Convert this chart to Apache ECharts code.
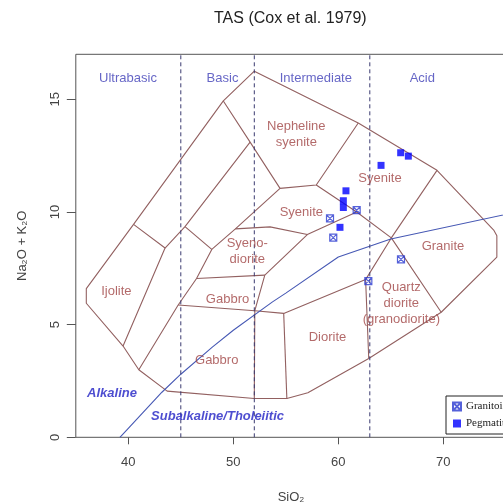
<!DOCTYPE html>
<html>
<head>
<meta charset="utf-8">
<script src="https://cdn.jsdelivr.net/npm/echarts@6/dist/echarts.min.js"></script>
<style>html,body{margin:0;padding:0;background:#fff;}#c{width:503px;height:503px;}</style>
</head>
<body>
<div id="c"></div>
<script>
// ---- axis ticks ----
const xTicks = [40, 50, 60, 70];
const yTicks = [0, 5, 10, 15];

// ---- field boundaries (SiO2, Na2O+K2O) ----
const outerBoundary = [[52,16.25],[61.9,13.95],[69.4,11.85],[74.8,9.2],[75.1,8.95],[75.1,8.0],[69.8,5.55],[62.9,3.5],[57.1,1.98],[55.1,1.72],[52,1.72],[43.7,2.05],[41,3.0],[39.5,4.05],[36,5.95],[36,6.6],[40.5,9.45],[49.05,14.93],[52,16.25]];
const ijoliteLine = [[40.5,9.45],[43.5,8.4],[39.5,4.05]];
const secondLine = [[43.5,8.4],[45.4,9.35],[51.6,13.1]];
const nephLeft = [[49.05,14.93],[51.6,13.1],[54.45,11.05]];
const nephBottom = [[54.45,11.05],[57.9,11.2],[61.9,13.95]];
const syeniteLower = [[57.9,11.2],[61.75,10.0],[65.05,8.85],[69.8,5.55]];
const graniteLeft = [[69.4,11.85],[65.05,8.85],[62.6,7.0],[62.9,3.5]];
const dioriteTop = [[62.6,7.0],[54.8,5.5],[52.05,5.62],[44.75,5.87]];
const dioriteLeft = [[54.8,5.5],[55.1,1.72]];
const gabbroRight = [[52.05,5.62],[52,1.72]];
const gabbroLeft = [[45.4,9.35],[47.95,8.34],[46.5,7.05],[44.75,5.87],[41,3.0]];
const syenoLeft = [[54.45,11.05],[50.2,9.25],[47.95,8.34]];
const syenoTop = [[50.2,9.25],[53.5,9.34],[57.05,9.0],[61.75,10.0]];
const syenoRight = [[57.05,9.0],[53.0,7.2],[52.05,5.62]];
const gabbroTop = [[53.0,7.2],[46.5,7.05]];
const boundaries = [outerBoundary, ijoliteLine, secondLine, nephLeft, nephBottom, syeniteLower, graniteLeft, dioriteTop, dioriteLeft, gabbroRight, gabbroLeft, syenoLeft, syenoTop, syenoRight, gabbroTop];

// ---- alkaline / subalkaline divide ----
const alkalineLine = [[39.2,0],[40,0.4],[43.2,2],[45,2.8],[48,4],[50,4.75],[53.7,6],[55,6.4],[60,8],[65,8.8],[77,10.0]];
const silicaDividers = [45, 52, 63];

// ---- labels ----
const fieldNames = ['Nepheline\nsyenite','Syenite','Syenite','Syeno-\ndiorite','Ijolite','Gabbro','Gabbro','Diorite','Granite','Quartz\ndiorite\n(granodiorite)'];
const fieldX = [56.0, 63.97, 56.48, 51.33, 38.86, 49.45, 48.42, 58.97, 69.97, 66.0];
const fieldY = [13.43, 11.49, 9.98, 8.23, 6.46, 6.12, 3.43, 4.44, 8.46, 5.94];
const classNames = ['Ultrabasic','Basic','Intermediate','Acid'];
const classX = [39.97, 48.97, 57.86, 68.0];
const classY = [15.93, 15.93, 15.93, 15.93];
const seriesNames = ['Alkaline','Subalkaline/Tholeiitic'];
const seriesX = [38.45, 48.5];
const seriesY = [1.95, 0.945];

// ---- samples ----
const granitoidSiO2 = [61.75, 59.21, 59.52, 65.97, 62.86];
const granitoidAlk  = [10.08, 9.72, 8.86, 7.9, 6.93];
const pegmatiteSiO2 = [65.94, 66.67, 64.07, 60.73, 60.48, 60.48, 60.16];
const pegmatiteAlk  = [12.63, 12.48, 12.07, 10.94, 10.5, 10.2, 9.32];

const chart = echarts.init(document.getElementById('c'), null, {renderer:'canvas'});
const series = [];
boundaries.forEach(function(b){
  series.push({type:'line', data:b, showSymbol:false, symbol:'none', silent:true, z:2,
    lineStyle:{color:'#926060', width:1.1}});
});
series.push({type:'line', data:alkalineLine, showSymbol:false, symbol:'none', silent:true, z:3,
  lineStyle:{color:'#4658b4', width:1.1}});
silicaDividers.forEach(function(x){
  series.push({type:'line', data:[[x,0],[x,17]], showSymbol:false, symbol:'none', silent:true, z:3,
    lineStyle:{color:'#3a3a70', width:1, type:[4,3]}});
});
function labelSeries(names, xs, ys, style){
  return {type:'scatter', silent:true, symbolSize:1, itemStyle:{color:'rgba(0,0,0,0)'}, z:4,
    data:names.map(function(n,i){return {name:n, value:[xs[i], ys[i]]};}),
    label:Object.assign({show:true, position:'inside', formatter:'{b}', align:'center', verticalAlign:'middle'}, style)};
}
series.push(labelSeries(fieldNames, fieldX, fieldY, {color:'#a04545', fontSize:13, lineHeight:16, fontFamily:'Liberation Sans'}));
series.push(labelSeries(classNames, classX, classY, {color:'#4040b8', fontSize:13, fontFamily:'Liberation Sans'}));
series.push(labelSeries(seriesNames, seriesX, seriesY, {color:'#2020c4', fontSize:13, fontWeight:'bold', fontStyle:'italic', fontFamily:'Liberation Sans'}));
series.push({name:'Granitoid', type:'scatter', z:6,
  symbol:'path://M0,0H10V10H0Z M0,0L10,10 M10,0L0,10', symbolSize:7,
  itemStyle:{color:'rgba(255,255,255,0)', borderColor:'#2a3ad0', borderWidth:1.2},
  data:granitoidSiO2.map(function(x,i){return [x, granitoidAlk[i]];})});
series.push({name:'Pegmatite', type:'scatter', z:6, symbol:'rect', symbolSize:7,
  itemStyle:{color:'#0000ff'},
  data:pegmatiteSiO2.map(function(x,i){return [x, pegmatiteAlk[i]];})});

const axisFont = {fontFamily:'Liberation Sans', fontSize:13, color:'#444'};
chart.setOption({
  animation:false,
  backgroundColor:'#fff',
  title:{text:'TAS (Cox et al. 1979)', left:214, top:11, padding:0,
    textStyle:{fontFamily:'Liberation Sans', fontSize:16, fontWeight:'normal', color:'#222'}},
  grid:{left:75.8, top:54.3, width:430.5, height:383, show:true, borderColor:'#555', borderWidth:1,
    backgroundColor:'rgba(0,0,0,0)', containLabel:false, outerBoundsMode:'none'},
  legend:{orient:'vertical', left:446, top:396, backgroundColor:'#fff', borderColor:'#222', borderWidth:1,
    padding:[5,40,5,6], itemGap:6, itemWidth:8, itemHeight:8, data:['Granitoid','Pegmatite'],
    textStyle:{fontFamily:'Liberation Serif', fontSize:11, color:'#222'}},
  xAxis:{type:'value', min:35, max:76, splitLine:{show:false}, axisLine:{show:false},
    axisTick:{show:true, customValues:xTicks, length:7, lineStyle:{color:'#555'}},
    axisLabel:Object.assign({customValues:xTicks, margin:19}, axisFont),
    name:'SiO₂', nameLocation:'middle', nameGap:54, nameTextStyle:axisFont},
  yAxis:{type:'value', min:0, max:17, splitLine:{show:false}, axisLine:{show:false},
    axisTick:{show:true, customValues:yTicks, length:9, lineStyle:{color:'#555'}},
    axisLabel:Object.assign({customValues:yTicks, margin:14, rotate:90}, axisFont),
    name:'Na₂O + K₂O', nameLocation:'middle', nameGap:47, nameTextStyle:axisFont},
  series:series
});
</script>
</body>
</html>
